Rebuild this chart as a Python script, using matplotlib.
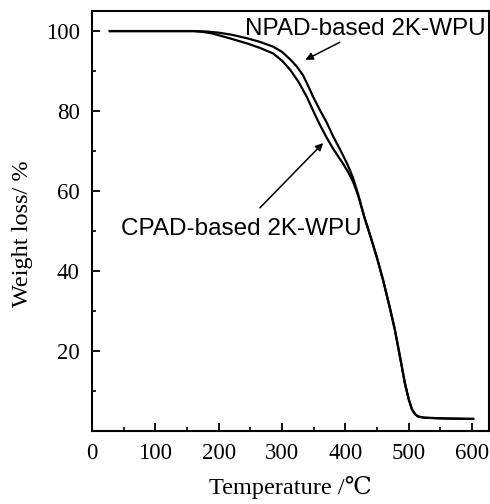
import matplotlib
matplotlib.use("Agg")
import matplotlib.pyplot as plt
from matplotlib.ticker import MultipleLocator

# TGA curves
cpad_t = [28, 160, 175, 190, 215, 245, 265, 286, 300, 313, 326, 339, 350, 360, 370,
          381, 395, 405, 412, 420, 430, 440, 450, 460, 470, 478, 487, 494, 500, 505,
          510, 515, 525, 560, 602]
cpad_w = [100, 100, 99.8, 99.4, 98.3, 96.9, 95.8, 94.4, 92.6, 90.3, 87.3, 83.6, 79.8, 76.5, 73.5,
          70.5, 67.2, 64.6, 62.4, 59, 53.5, 48.5, 43.3, 37.5, 31, 25.5, 18, 12, 8, 5.5,
          4.2, 3.6, 3.3, 3.1, 3.0]
npad_t = [28, 160, 180, 200, 220, 245, 265, 286, 300, 313, 323, 333, 341, 349, 360,
          371, 381, 392, 403, 412, 420, 430, 440, 450, 460, 470, 478, 487, 494, 500,
          505, 510, 515, 525, 560, 602]
npad_w = [100, 100, 99.9, 99.6, 99.1, 98.2, 97.3, 96.1, 94.8, 92.9, 91.2, 89.0, 86.4, 83.6, 80.2,
          77, 73.6, 70.3, 66.8, 63.4, 59.3, 53.5, 48.5, 43.3, 37.5, 31, 25.5, 18, 12, 8,
          5.5, 4.2, 3.6, 3.3, 3.1, 3.0]

x_ticks = [0, 100, 200, 300, 400, 500, 600]
y_ticks = [20, 40, 60, 80, 100]

serif = ["Liberation Serif", "DejaVu Serif"]
sans = ["Liberation Sans", "DejaVu Sans"]

fig = plt.figure(figsize=(4.9, 5.04), dpi=100)
ax = fig.add_axes([0.188, 0.145, 0.81, 0.833])

ax.plot(cpad_t, cpad_w, color="black", lw=1.6)
ax.plot(npad_t, npad_w, color="black", lw=1.6)

ax.set_xlim(0, 627)
ax.set_ylim(0, 105)
ax.set_xticks(x_ticks)
ax.set_yticks(y_ticks)
ax.xaxis.set_minor_locator(MultipleLocator(50))
ax.yaxis.set_minor_locator(MultipleLocator(10))
ax.tick_params(which="major", direction="in", length=6, width=1.3, pad=9,
               top=False, right=False, labelsize=16.5)
ax.tick_params(which="minor", direction="in", length=3, width=1.2,
               top=False, right=False)
for lab in ax.get_xticklabels() + ax.get_yticklabels():
    lab.set_family(serif)
for s in ax.spines.values():
    s.set_linewidth(1.5)

ax.set_xlabel("Temperature /℃", family=serif, fontsize=17.5)
ax.xaxis.set_label_coords(0.5, -0.108)
ax.set_ylabel("Weight loss/ %", family=serif, fontsize=17.5)
ax.yaxis.set_label_coords(-0.15, 0.47)

arrow = dict(arrowstyle="-|>", color="black", lw=1.1, mutation_scale=11)
ax.annotate("NPAD-based 2K-WPU", xy=(621, 100.5), ha="right", va="center",
            family=sans, fontsize=17.5)
ax.annotate("", xy=(333, 92.5), xytext=(395, 97.5), arrowprops=arrow)
ax.annotate("CPAD-based 2K-WPU", xy=(46, 50.5), ha="left", va="center",
            family=sans, fontsize=17.5)
ax.annotate("", xy=(368, 72.5), xytext=(262, 55.3), arrowprops=arrow)

fig.savefig("out.png", dpi=100)
